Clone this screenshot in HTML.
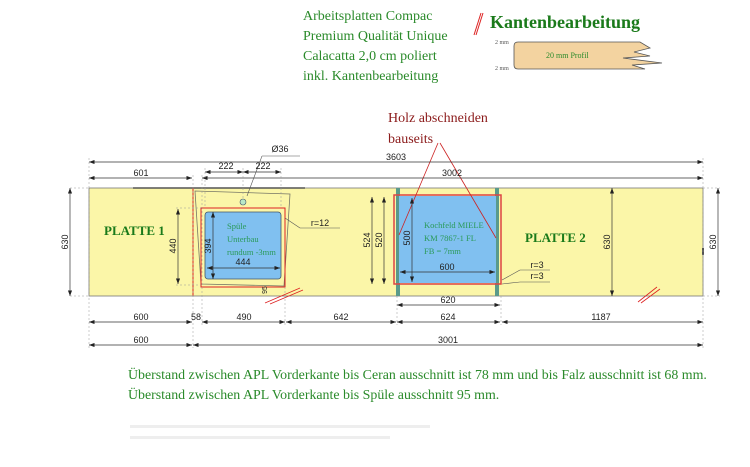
<!DOCTYPE html>
<html><head><style>
body{margin:0;background:#fff}
svg{display:block}
.s{font-family:"Liberation Serif",serif}
.a{font-family:"Liberation Sans",sans-serif;font-size:9px;fill:#222}
</style></head><body>
<svg width="750" height="467" viewBox="0 0 750 467" xmlns="http://www.w3.org/2000/svg">
<defs>
<marker id="ar" markerWidth="8" markerHeight="6" refX="8" refY="3" orient="auto-start-reverse"><path d="M0,0 L8,3 L0,6z" fill="#222"/></marker>
</defs>
<g class="s" fill="#2a8a2a" font-size="14">
<text x="303" y="20">Arbeitsplatten Compac</text>
<text x="303" y="40">Premium Qualität Unique</text>
<text x="303" y="60">Calacatta 2,0 cm poliert</text>
<text x="303" y="80">inkl. Kantenbearbeitung</text>
</g>
<line x1="474" y1="35" x2="481" y2="13" stroke="#d22" stroke-width="1"/>
<line x1="476" y1="35" x2="483" y2="13" stroke="#d22" stroke-width="1"/>
<text x="490" y="28" class="s" font-size="18" font-weight="bold" fill="#1a7a1a">Kantenbearbeitung</text>
<path d="M518,42 L640,42 L650,48 L634,52 L650,56 L623,58 L662,63 L632,65 L645,69 L518,69 Q514,69 514,65 L514,46 Q514,42 518,42z" fill="#f3d3a0" stroke="#555" stroke-width="0.8"/>
<text x="546" y="58" class="s" font-size="8" fill="#2a8a2a">20 mm Profil</text>
<text x="495" y="44" class="s" font-size="6" fill="#555">2 mm</text>
<text x="495" y="70" class="s" font-size="6" fill="#555">2 mm</text>
<text x="388" y="122" class="s" font-size="14" fill="#8b1a1a">Holz abschneiden</text>
<text x="388" y="143" class="s" font-size="14" fill="#8b1a1a">bauseits</text>
<rect x="89" y="188" width="614" height="108" fill="#fbf6a8" stroke="#777" stroke-width="0.8"/>
<line x1="133" y1="188" x2="305" y2="188" stroke="#555" stroke-width="1.5"/>
<line x1="193" y1="188" x2="193" y2="296" stroke="#d22" stroke-width="1"/>
<line x1="703" y1="248" x2="703" y2="255" stroke="#555" stroke-width="2"/>
<path d="M195,191 L290,194 L284,286 L201,284 z" fill="none" stroke="#776" stroke-width="0.8"/>
<rect x="201" y="208" width="84" height="79" fill="none" stroke="#d22" stroke-width="1"/>
<rect x="205" y="212" width="76" height="67" rx="3" fill="#80c0f0" stroke="#456" stroke-width="0.8"/>
<circle cx="243" cy="202" r="3" fill="#b8e8c8" stroke="#456" stroke-width="0.6"/>
<g class="s" fill="#2a9a5a" font-size="8.5">
<text x="227" y="229">Spüle</text><text x="227" y="242">Unterbau</text><text x="227" y="255">rundum -3mm</text>
</g>
<text x="104" y="235" class="s" font-size="13" font-weight="bold" fill="#1a7a1a">PLATTE 1</text>
<rect x="396" y="188" width="4" height="108" fill="#5a9a8a"/>
<rect x="495" y="188" width="4" height="108" fill="#5a9a8a"/>
<rect x="399" y="196" width="97" height="87" fill="#80c0f0"/>
<rect x="394" y="195" width="107" height="89" fill="none" stroke="#d44" stroke-width="1.5"/>
<g class="s" fill="#2a9a5a" font-size="8.5">
<text x="424" y="228">Kochfeld MIELE</text><text x="424" y="241">KM 7867-1 FL</text><text x="424" y="254">FB = 7mm</text>
</g>
<text x="525" y="242" class="s" font-size="13" font-weight="bold" fill="#1a7a1a">PLATTE 2</text>
<line x1="399" y1="235" x2="438" y2="143" stroke="#c22" stroke-width="0.8"/>
<line x1="496" y1="238" x2="440" y2="143" stroke="#c22" stroke-width="0.8"/>
<g stroke="#d22" stroke-width="0.8"><line x1="265" y1="303" x2="300" y2="288"/><line x1="270" y1="304" x2="303" y2="290"/>
<line x1="638" y1="302" x2="657" y2="287"/><line x1="641" y1="303" x2="660" y2="289"/></g>
<g stroke="#333" stroke-width="0.7" fill="none" marker-start="url(#ar)" marker-end="url(#ar)">
<line x1="89" y1="162" x2="703" y2="162"/>
<line x1="89" y1="178" x2="192" y2="178"/>
<line x1="202" y1="178" x2="703" y2="178"/>
<line x1="205" y1="172" x2="243" y2="172"/>
<line x1="243" y1="172" x2="281" y2="172"/>
<line x1="89" y1="322" x2="192" y2="322"/>
<line x1="202" y1="322" x2="285" y2="322"/>
<line x1="286" y1="322" x2="396" y2="322"/>
<line x1="397" y1="322" x2="500" y2="322"/>
<line x1="502" y1="322" x2="703" y2="322"/>
<line x1="397" y1="305" x2="500" y2="305"/>
<line x1="89" y1="345" x2="192" y2="345"/>
<line x1="193" y1="345" x2="703" y2="345"/>
<line x1="70" y1="188" x2="70" y2="296"/>
<line x1="718" y1="188" x2="718" y2="296"/>
<line x1="612" y1="188" x2="612" y2="296"/>
<line x1="178" y1="209" x2="178" y2="284"/>
<line x1="213" y1="212" x2="213" y2="279"/>
<line x1="207" y1="268" x2="280" y2="268"/>
<line x1="372" y1="197" x2="372" y2="284"/>
<line x1="384" y1="197" x2="384" y2="284"/>
<line x1="412" y1="198" x2="412" y2="282"/>
<line x1="400" y1="272" x2="495" y2="272"/>
</g>
<g stroke="#999" stroke-width="0.5" stroke-dasharray="2,2">
<line x1="89" y1="158" x2="89" y2="348"/><line x1="703" y1="158" x2="703" y2="348"/>
<line x1="193" y1="175" x2="193" y2="348"/><line x1="202" y1="175" x2="202" y2="325"/>
<line x1="285" y1="287" x2="285" y2="325"/><line x1="397" y1="296" x2="397" y2="325"/><line x1="501" y1="296" x2="501" y2="325"/>
<line x1="205" y1="168" x2="205" y2="208"/><line x1="281" y1="168" x2="281" y2="208"/><line x1="243" y1="168" x2="243" y2="200"/>
<line x1="70" y1="188" x2="89" y2="188"/><line x1="70" y1="296" x2="89" y2="296"/>
<line x1="703" y1="188" x2="720" y2="188"/><line x1="703" y1="296" x2="720" y2="296"/>
<line x1="176" y1="208" x2="201" y2="208"/><line x1="176" y1="285" x2="201" y2="285"/>
</g>
<g stroke="#555" stroke-width="0.6" fill="none">
<line x1="247" y1="196" x2="262" y2="156"/><line x1="262" y1="156" x2="300" y2="156"/>
<line x1="285" y1="218" x2="300" y2="228"/><line x1="300" y1="228" x2="340" y2="228"/>
<line x1="502" y1="280" x2="520" y2="270"/><line x1="520" y1="270" x2="550" y2="270"/>
<line x1="502" y1="284" x2="520" y2="282"/><line x1="520" y1="282" x2="550" y2="282"/>
</g>
<g class="a" text-anchor="middle">
<text x="396" y="160">3603</text><text x="141" y="176">601</text><text x="452" y="176">3002</text>
<text x="226" y="169">222</text><text x="263" y="169">222</text><text x="280" y="152">Ø36</text>
<text x="141" y="320">600</text><text x="196" y="320">58</text><text x="244" y="320">490</text>
<text x="341" y="320">642</text><text x="448" y="320">624</text><text x="601" y="320">1187</text>
<text x="448" y="303">620</text><text x="141" y="343">600</text><text x="448" y="343">3001</text>
<text x="243" y="265">444</text><text x="447" y="270">600</text>
<text x="320" y="226">r=12</text><text x="537" y="268">r=3</text><text x="537" y="279">r=3</text>
<text transform="translate(68,242) rotate(-90)">630</text>
<text transform="translate(716,242) rotate(-90)">630</text>
<text transform="translate(610,242) rotate(-90)">630</text>
<text transform="translate(176,246) rotate(-90)">440</text>
<text transform="translate(211,246) rotate(-90)">394</text>
<text transform="translate(370,240) rotate(-90)">524</text>
<text transform="translate(382,240) rotate(-90)">520</text>
<text transform="translate(410,238) rotate(-90)">500</text>
<text transform="translate(267,290) rotate(-90)" font-size="7">95</text>
</g>
<g class="s" fill="#2a8a2a" font-size="13.9">
<text x="128" y="379">Überstand zwischen APL Vorderkante bis Ceran ausschnitt ist 78 mm und bis Falz ausschnitt ist 68 mm.</text>
<text x="128" y="399">Überstand zwischen APL Vorderkante bis Spüle ausschnitt 95 mm.</text>
</g>
<rect x="130" y="425" width="300" height="3" fill="#eee"/>
<rect x="130" y="436" width="260" height="3" fill="#eee"/>
</svg>
</body></html>
